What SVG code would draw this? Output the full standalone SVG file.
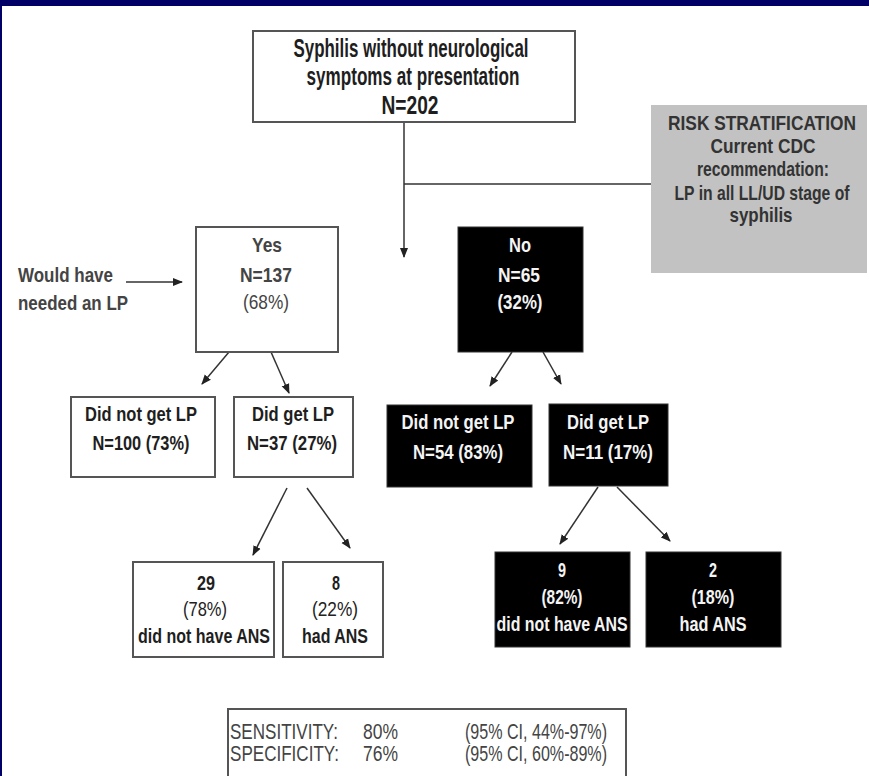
<svg xmlns="http://www.w3.org/2000/svg" width="869" height="776" viewBox="0 0 869 776">
<defs>
<marker id="ah" markerUnits="userSpaceOnUse" markerWidth="10" markerHeight="10" viewBox="0 0 10 10" refX="9" refY="5" orient="auto">
<path d="M0,1 L10,5 L0,9 Z" fill="#222"/>
</marker>
<style>
text{font-family:"Liberation Sans Narrow","Liberation Sans",Arial,sans-serif;text-anchor:middle;}
.b{font-weight:bold;}
.dk{fill:#1e1e1e;}
.wt{fill:#f4f4f4;}
.gy{fill:#333;}
.wbox{fill:#fff;stroke:#555;stroke-width:2;}
.kbox{fill:#000;stroke:#333;stroke-width:1;}
.conn line{stroke:#333;stroke-width:1.5;}
.arr{marker-end:url(#ah);}
.st{fill:#444;font-size:22px;text-anchor:start;}
</style>
</defs>
<rect x="0" y="0" width="869" height="776" fill="#fff"/>
<rect x="0" y="0" width="869" height="6" fill="#000066"/>
<rect x="0" y="0" width="2" height="776" fill="#000066"/>

<g class="conn" id="connectors">
<line x1="404" y1="122" x2="404" y2="257" class="arr"/>
<line x1="404" y1="184" x2="651" y2="184"/>
<line x1="126" y1="282" x2="182" y2="282" class="arr"/>
<line x1="229" y1="352" x2="202" y2="384" class="arr"/>
<line x1="271" y1="352" x2="289" y2="393" class="arr"/>
<line x1="512" y1="352" x2="490" y2="386" class="arr"/>
<line x1="543" y1="352" x2="561" y2="384" class="arr"/>
<line x1="287" y1="488" x2="253" y2="555" class="arr"/>
<line x1="307" y1="488" x2="350" y2="548" class="arr"/>
<line x1="598" y1="487" x2="560" y2="544" class="arr"/>
<line x1="617" y1="487" x2="670" y2="541" class="arr"/>
</g>

<g id="top">
<rect class="wbox" x="253" y="31" width="322" height="91"/>
<text class="b dk" x="411" y="57" font-size="25" textLength="235" lengthAdjust="spacingAndGlyphs">Syphilis without neurological</text>
<text class="b dk" x="413" y="85" font-size="25" textLength="213" lengthAdjust="spacingAndGlyphs">symptoms at presentation</text>
<text class="b dk" x="410" y="114" font-size="25" textLength="57" lengthAdjust="spacingAndGlyphs">N=202</text>
</g>

<g id="risk">
<rect x="651" y="105" width="216" height="168" fill="#c2c2c2"/>
<text class="b gy" x="762" y="130" font-size="21" textLength="188" lengthAdjust="spacingAndGlyphs">RISK STRATIFICATION</text>
<text class="b gy" x="763" y="153" font-size="21" textLength="105" lengthAdjust="spacingAndGlyphs">Current CDC</text>
<text class="b gy" x="763" y="176" font-size="21" textLength="132" lengthAdjust="spacingAndGlyphs">recommendation:</text>
<text class="b gy" x="762" y="200" font-size="21" textLength="175" lengthAdjust="spacingAndGlyphs">LP in all LL/UD stage of</text>
<text class="b gy" x="761" y="222" font-size="21" textLength="63" lengthAdjust="spacingAndGlyphs">syphilis</text>
</g>

<g id="would">
<text class="b" fill="#444" x="18" y="282" font-size="21" style="text-anchor:start" textLength="95" lengthAdjust="spacingAndGlyphs">Would have</text>
<text class="b" fill="#444" x="18" y="310" font-size="21" style="text-anchor:start" textLength="110" lengthAdjust="spacingAndGlyphs">needed an LP</text>
</g>

<g id="yes">
<rect class="wbox" x="196" y="227" width="142" height="125"/>
<text class="b" fill="#444" x="267" y="252" font-size="21" textLength="30" lengthAdjust="spacingAndGlyphs">Yes</text>
<text class="b" fill="#444" x="266" y="282" font-size="21" textLength="52" lengthAdjust="spacingAndGlyphs">N=137</text>
<text x="266" y="309" fill="#444" font-size="21" textLength="46" lengthAdjust="spacingAndGlyphs">(68%)</text>
</g>

<g id="no">
<rect class="kbox" x="458" y="227" width="125" height="125"/>
<text class="b wt" x="520" y="252" font-size="21" textLength="22" lengthAdjust="spacingAndGlyphs">No</text>
<text class="b wt" x="519" y="282" font-size="21" textLength="42" lengthAdjust="spacingAndGlyphs">N=65</text>
<text class="b wt" x="520" y="309" font-size="21" textLength="45" lengthAdjust="spacingAndGlyphs">(32%)</text>
</g>

<g id="yes-nolp">
<rect class="wbox" x="71" y="397" width="144" height="80"/>
<text class="b dk" x="141" y="421" font-size="21" textLength="112" lengthAdjust="spacingAndGlyphs">Did not get LP</text>
<text class="b dk" x="141" y="450" font-size="21" textLength="97" lengthAdjust="spacingAndGlyphs">N=100 (73%)</text>
</g>

<g id="yes-lp">
<rect class="wbox" x="234" y="397" width="119" height="80"/>
<text class="b dk" x="293" y="421" font-size="21" textLength="82" lengthAdjust="spacingAndGlyphs">Did get LP</text>
<text class="b dk" x="292" y="450" font-size="21" textLength="90" lengthAdjust="spacingAndGlyphs">N=37 (27%)</text>
</g>

<g id="no-nolp">
<rect class="kbox" x="387" y="405" width="145" height="82"/>
<text class="b wt" x="458" y="429" font-size="21" textLength="113" lengthAdjust="spacingAndGlyphs">Did not get LP</text>
<text class="b wt" x="458" y="459" font-size="21" textLength="90" lengthAdjust="spacingAndGlyphs">N=54 (83%)</text>
</g>

<g id="no-lp">
<rect class="kbox" x="549" y="404" width="119" height="82"/>
<text class="b wt" x="608" y="429" font-size="21" textLength="82" lengthAdjust="spacingAndGlyphs">Did get LP</text>
<text class="b wt" x="608" y="459" font-size="21" textLength="90" lengthAdjust="spacingAndGlyphs">N=11 (17%)</text>
</g>

<g id="yes-noans">
<rect class="wbox" x="133" y="562" width="141" height="95"/>
<text class="b dk" x="206" y="590" font-size="21" textLength="18" lengthAdjust="spacingAndGlyphs">29</text>
<text x="205" y="616" fill="#222" font-size="21" textLength="44" lengthAdjust="spacingAndGlyphs">(78%)</text>
<text class="b dk" x="204" y="643" font-size="21" textLength="132" lengthAdjust="spacingAndGlyphs">did not have ANS</text>
</g>

<g id="yes-ans">
<rect class="wbox" x="283" y="562" width="100" height="95"/>
<text class="b dk" x="336" y="590" font-size="21" textLength="8" lengthAdjust="spacingAndGlyphs">8</text>
<text x="335" y="616" fill="#222" font-size="21" textLength="46" lengthAdjust="spacingAndGlyphs">(22%)</text>
<text class="b dk" x="335" y="643" font-size="21" textLength="66" lengthAdjust="spacingAndGlyphs">had ANS</text>
</g>

<g id="no-noans">
<rect class="kbox" x="495" y="552" width="135" height="95"/>
<text class="b wt" x="562" y="577" font-size="21" textLength="8" lengthAdjust="spacingAndGlyphs">9</text>
<text class="b wt" x="562" y="604" font-size="21" textLength="41" lengthAdjust="spacingAndGlyphs">(82%)</text>
<text class="b wt" x="562" y="631" font-size="21" textLength="131" lengthAdjust="spacingAndGlyphs">did not have ANS</text>
</g>

<g id="no-ans">
<rect class="kbox" x="646" y="552" width="135" height="95"/>
<text class="b wt" x="713" y="577" font-size="21" textLength="8" lengthAdjust="spacingAndGlyphs">2</text>
<text class="b wt" x="713" y="604" font-size="21" textLength="43" lengthAdjust="spacingAndGlyphs">(18%)</text>
<text class="b wt" x="713" y="631" font-size="21" textLength="67" lengthAdjust="spacingAndGlyphs">had ANS</text>
</g>

<g id="stats">
<rect x="228" y="709" width="398" height="90" fill="#fff" stroke="#555" stroke-width="2"/>
<text class="st" x="230" y="739" textLength="108" lengthAdjust="spacingAndGlyphs">SENSITIVITY:</text>
<text class="st" x="363" y="739" textLength="35" lengthAdjust="spacingAndGlyphs">80%</text>
<text class="st" x="465" y="739" textLength="142" lengthAdjust="spacingAndGlyphs">(95% CI, 44%-97%)</text>
<text class="st" x="230" y="761" textLength="109" lengthAdjust="spacingAndGlyphs">SPECIFICITY:</text>
<text class="st" x="363" y="761" textLength="35" lengthAdjust="spacingAndGlyphs">76%</text>
<text class="st" x="465" y="761" textLength="142" lengthAdjust="spacingAndGlyphs">(95% CI, 60%-89%)</text>
</g>
</svg>
